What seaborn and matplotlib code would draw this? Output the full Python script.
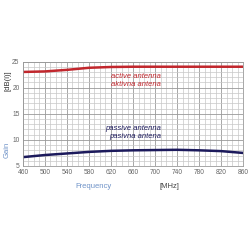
import numpy as np
import pandas as pd
import seaborn as sns
from matplotlib import pyplot as plt
from matplotlib.ticker import MultipleLocator

sns.set_style('white')
plt.rcParams['font.family'] = ['Liberation Sans', 'DejaVu Sans']

# gain curves
freq = [460, 500, 540, 580, 620, 660, 700, 740, 780, 820, 860]
active_gain = [23.0, 23.1, 23.4, 23.8, 23.95, 24.0, 24.0, 24.0, 24.0, 24.0, 24.0]
passive_gain = [6.7, 7.1, 7.4, 7.7, 7.9, 8.0, 8.05, 8.1, 8.0, 7.85, 7.5]
x_ticks = [460, 500, 540, 580, 620, 660, 700, 740, 780, 820, 860]
y_ticks = [5, 10, 15, 20, 25]

df = pd.DataFrame({'freq': freq, 'active': active_gain, 'passive': passive_gain})

red = '#c1272d'
navy = '#1c1a5c'
lightblue = '#6f93c8'

fig = plt.figure(figsize=(2.5, 2.5), dpi=100)
ax = fig.add_axes([0.092, 0.336, 0.88, 0.418])

sns.lineplot(data=df, x='freq', y='active', ax=ax, color=red, linewidth=1.8)
sns.lineplot(data=df, x='freq', y='passive', ax=ax, color=navy, linewidth=1.8)

ax.set_xlim(460, 860)
ax.set_ylim(5, 25)
ax.set_xticks(x_ticks)
ax.set_yticks(y_ticks)
ax.xaxis.set_minor_locator(MultipleLocator(10))
ax.yaxis.set_minor_locator(MultipleLocator(1))
ax.grid(which='minor', color='#c8c8c8', linewidth=0.5)
ax.grid(which='major', color='#999999', linewidth=0.6)
ax.set_axisbelow(True)
ax.tick_params(axis='both', which='both', length=0, labelsize=4.8, colors='#666666', pad=2.5)
for s in ax.spines.values():
    s.set_color('#999999')
    s.set_linewidth(0.6)
ax.set_xlabel('')
ax.set_ylabel('')

fig.text(0.03, 0.676, '[dB(i)]', rotation=90, fontsize=5.5, color='#333333', ha='center', va='center')
fig.text(0.03, 0.40, 'Gain', rotation=90, fontsize=5.5, color=lightblue, ha='center', va='center')
fig.text(0.372, 0.255, 'Frequency', fontsize=5.5, color=lightblue, ha='center', va='center')
fig.text(0.676, 0.255, '[MHz]', fontsize=5.5, color='#444444', ha='center', va='center')

ax.text(711, 22.1, 'active antenna', fontsize=5.5, color=red, ha='right', va='center', style='italic')
ax.text(711, 20.6, 'aktivna antena', fontsize=5.5, color=red, ha='right', va='center', style='italic')
ax.text(711, 12.2, 'passive antenna', fontsize=5.5, color=navy, ha='right', va='center', style='italic')
ax.text(711, 10.7, 'pasivna antena', fontsize=5.5, color=navy, ha='right', va='center', style='italic')

plt.savefig('out.png', dpi=100)
